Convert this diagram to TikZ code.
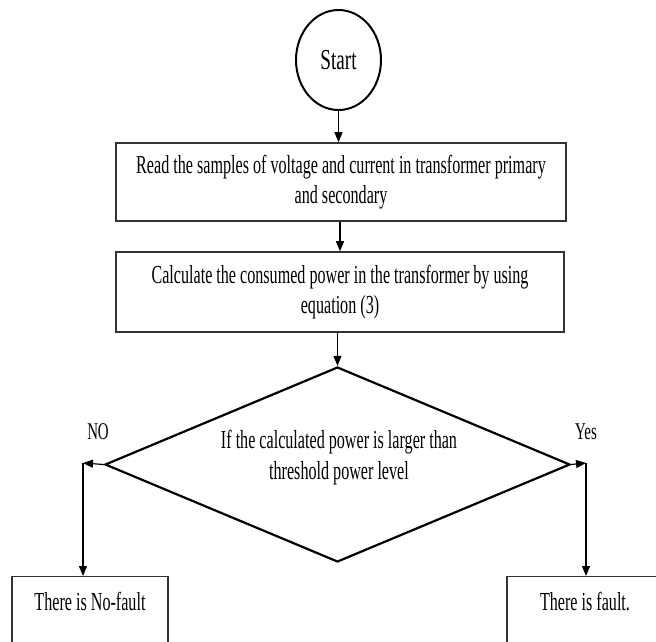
\documentclass[tikz,border=0pt]{standalone}
\usepackage{fontspec}
\setmainfont{Liberation Serif}[FakeStretch=0.62]
\newfontfamily\startfont{Liberation Serif}[FakeStretch=0.66]
\usetikzlibrary{shapes.geometric,arrows.meta}
\tikzset{
  procbox/.style={draw=black!80, line width=1.6pt, rectangle, align=center, inner sep=0pt,
    font=\fontsize{26}{30}\selectfont},
  endbox/.style={draw=black!80, line width=1.4pt, rectangle, anchor=north, minimum width=156pt,
    text height=17pt, text depth=40pt, inner ysep=17pt, font=\fontsize{26}{30}\selectfont},
  decision/.style={draw=black, line width=2.2pt, diamond, inner sep=0pt},
  conn/.style={draw=black, line width=1.2pt, -{Triangle[length=10pt,width=8pt]}},
  lbl/.style={font=\fontsize{24}{26}\selectfont, inner sep=0pt},
}
\begin{document}
\begin{tikzpicture}[x=1pt,y=-1pt]
\useasboundingbox[fill=white] (0,0) rectangle (656,641);
\node[draw=black, line width=2pt, ellipse, minimum width=85pt, minimum height=100pt, inner sep=0pt,
  font=\startfont\fontsize{29}{30}\selectfont] (start) at (338.5,60) {Start};
\node[procbox, minimum width=450pt, minimum height=78pt] (read) at (341,182)
  {Read the samples of voltage and current in transformer primary\\and secondary};
\node[procbox, minimum width=448pt, minimum height=80pt] (calc) at (340,292)
  {Calculate the consumed power in the transformer by using\\equation (3)};
\node[decision, minimum width=465pt, minimum height=195pt] (dec) at (337.5,464.5) {};
\node[lbl, align=center, font=\fontsize{26}{31}\selectfont] (dectext) at (339,458)
  {If the calculated power is larger than\\threshold power level};
\node[endbox] (nofault) at (90,576) {There is No-fault};
\node[endbox] (fault) at (585,576) {There is fault.};
\coordinate (nocorner) at (83,463);
\coordinate (yescorner) at (586,463);
\node[lbl] (no) at (98,432) {NO};
\node[lbl] (yes) at (586,432) {Yes};
\draw[conn] (start.south) -- (read.north -| start.south);
\draw[conn] (read.south -| calc.north) -- (calc.north);
\draw[conn] (calc.south -| dec.north) -- (dec.north);
\draw[conn] (dec.west) -- (nocorner);
\draw[conn] (nocorner) -- (nocorner |- nofault.north);
\draw[conn] (dec.east) -- (yescorner);
\draw[conn] (yescorner) -- (yescorner |- fault.north);
\end{tikzpicture}
\end{document}
